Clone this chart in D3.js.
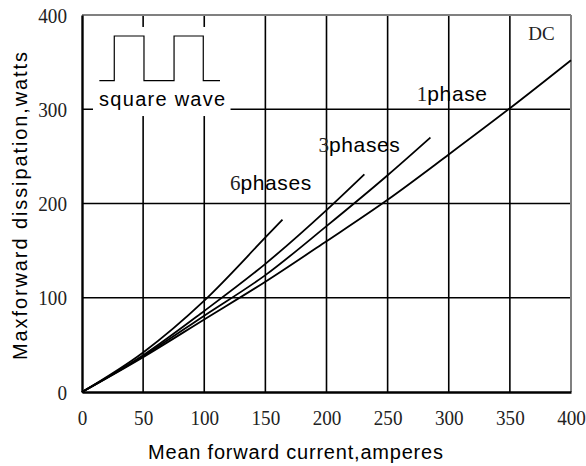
<!DOCTYPE html>
<html><head><meta charset="utf-8">
<script src="https://cdn.jsdelivr.net/npm/d3@7/dist/d3.min.js"></script>
<style>body{margin:0;background:#fff}svg{display:block}</style>
</head><body><svg id="c" width="586" height="466"></svg>
<script>
// ---- data ----
const xTicks = [0, 50, 100, 150, 200, 250, 300, 350, 400];
const yTicks = [0, 100, 200, 300, 400];
const dcX  = [0, 50, 100, 150, 200, 250, 300, 350, 400];
const dcY  = [0, 37, 77, 117, 160, 204, 252, 301, 352];
const ph1X = [0, 50, 100, 150, 200, 250, 285];
const ph1Y = [0, 38, 81, 124, 176, 230, 270];
const ph3X = [0, 50, 100, 150, 200, 231];
const ph3Y = [0, 39, 86, 136, 193, 231];
const ph6X = [0, 50, 100, 150, 164];
const ph6Y = [0, 42, 97, 164, 183];
const waveX = [14.2, 26.4, 26.4, 50.7, 50.7, 75.3, 75.3, 99.2, 99.2, 112.9];
const waveY = [330.3, 330.3, 377.7, 377.7, 330.3, 330.3, 377.7, 377.7, 330.3, 330.3];
const xTitle = "Mean forward current,amperes";
const yTitle = "Maxforward dissipation,watts";

// ---- layout ----
const L = 82, T = 15, W = 489, H = 377;
const svg = d3.select("#c");
const g = svg.append("g").attr("transform", `translate(${L},${T})`);
const x = d3.scaleLinear().domain([0, 400]).range([0, W]);
const y = d3.scaleLinear().domain([0, 400]).range([H, 0]);
const sans = "'Liberation Sans', Arial, sans-serif";
const serif = "'Liberation Serif', 'Times New Roman', serif";

// grid
g.append("g").selectAll("line.v").data(xTicks.slice(1, -1)).join("line")
  .attr("x1", d => x(d)).attr("x2", d => x(d)).attr("y1", 0).attr("y2", H)
  .attr("stroke", "#000").attr("stroke-width", 1.6);
g.append("g").selectAll("line.h").data(yTicks.slice(1, -1)).join("line")
  .attr("x1", 0).attr("x2", W).attr("y1", d => y(d)).attr("y2", d => y(d))
  .attr("stroke", "#000").attr("stroke-width", 1.6);

// inset (square wave)
g.append("rect").attr("x", x(9)).attr("y", y(387.3))
  .attr("width", x(121.5) - x(9)).attr("height", y(292.8) - y(387.3)).attr("fill", "#fff");
g.append("path")
  .attr("d", d3.line().x((d, i) => x(waveX[i])).y((d, i) => y(waveY[i]))(waveX))
  .attr("fill", "none").attr("stroke", "#000").attr("stroke-width", 1.2);
g.append("text").attr("x", x(14)).attr("y", y(303)).attr("font-family", sans)
  .attr("font-size", 20).attr("textLength", 126).attr("lengthAdjust", "spacing").text("square wave");

// frame
g.append("line").attr("x1", 0).attr("x2", W).attr("y1", 0).attr("y2", 0).attr("stroke", "#808080").attr("stroke-width", 2);
g.append("line").attr("x1", W).attr("x2", W).attr("y1", 0).attr("y2", H).attr("stroke", "#808080").attr("stroke-width", 2);

// axes
const xa = g.append("g").attr("transform", `translate(0,${H})`)
  .call(d3.axisBottom(x).tickValues(xTicks).tickSize(0).tickPadding(17).tickFormat(d3.format("d")));
const ya = g.append("g")
  .call(d3.axisLeft(y).tickValues(yTicks).tickSize(0).tickPadding(17).tickFormat(d3.format("d")));
[xa, ya].forEach(a => {
  a.select(".domain").attr("stroke", "#000").attr("stroke-width", 2.4);
  a.selectAll("text").attr("font-family", serif).attr("font-size", 22).attr("fill", "#222");
});
xa.selectAll("text").attr("transform", "scale(0.87,1)");
ya.selectAll("text").attr("x", -15 / 0.87).attr("transform", "scale(0.87,1)");

// curves
const series = [[dcX, dcY], [ph1X, ph1Y], [ph3X, ph3Y], [ph6X, ph6Y]];
const line = d3.line().curve(d3.curveMonotoneX);
series.forEach(([xs, ys]) => {
  g.append("path").attr("d", line(xs.map((v, i) => [x(v), y(ys[i])])))
    .attr("fill", "none").attr("stroke", "#000").attr("stroke-width", 1.8);
});

// curve labels
function lab(num, word, dx, dy) {
  const t = g.append("text").attr("x", x(dx)).attr("y", y(dy)).attr("fill", "#000");
  t.append("tspan").attr("font-family", serif).attr("font-size", 21).attr("fill", "#222").text(num);
  t.append("tspan").attr("font-family", sans).attr("font-size", 21).attr("letter-spacing", 0.6).text(word);
}
lab("1", "phase", 273.9, 308.8);
lab("3", "phases", 193.5, 254.9);
lab("6", "phases", 121.1, 214.3);
g.append("text").attr("x", x(365)).attr("y", y(373)).attr("font-family", serif)
  .attr("font-size", 19).attr("fill", "#222").text("DC");

// titles
svg.append("text").attr("x", 148).attr("y", 459).attr("font-family", sans).attr("font-size", 20)
  .attr("textLength", 295).attr("lengthAdjust", "spacing").text(xTitle);
svg.append("text").attr("transform", "translate(27,360) rotate(-90)").attr("font-family", sans)
  .attr("font-size", 20).attr("textLength", 308).attr("lengthAdjust", "spacing").text(yTitle);
</script></body></html>
